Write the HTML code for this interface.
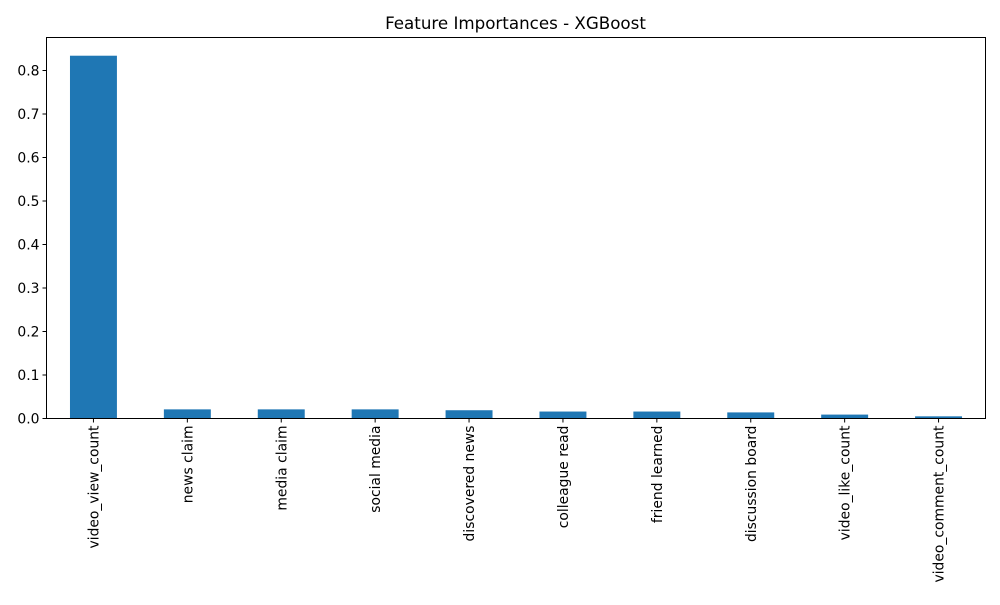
<!DOCTYPE html>
<html><head><meta charset="utf-8"><style>
body{margin:0;background:#fff;}
text{font-family:"DejaVu Sans","Liberation Sans",sans-serif;fill:#000;}
</style></head><body>
<svg id="chart" width="1000" height="600">
<text x="515.5" y="29" font-size="16.7" text-anchor="middle">Feature Importances - XGBoost</text>
<g id="bars"></g><g id="yaxis"></g><g id="xaxis"></g>
<rect x="46.5" y="37.5" width="939" height="381" fill="none" stroke="#000" stroke-width="1"/>
</svg>
<script>
const categories=["video_view_count","news claim","media claim","social media","discovered news","colleague read","friend learned","discussion board","video_like_count","video_comment_count"];
const importances=[0.834,0.021,0.021,0.021,0.019,0.016,0.016,0.014,0.009,0.005];
const yTicks=[0,0.1,0.2,0.3,0.4,0.5,0.6,0.7,0.8];
const yTickLabels=["0.0","0.1","0.2","0.3","0.4","0.5","0.6","0.7","0.8"];
const L=46.5,R=985.5,B=418.5,T=37.5;
const ns="http://www.w3.org/2000/svg";
const step=(R-L)/categories.length;
function xc(i){return L+step*(i+0.5);}
function y(v){return B-v*435;}
const bars=document.getElementById('bars'),ya=document.getElementById('yaxis'),xa=document.getElementById('xaxis');
function mk(tag,a,p){const e=document.createElementNS(ns,tag);for(const k in a)e.setAttribute(k,a[k]);p.appendChild(e);return e;}
importances.forEach((v,i)=>{
 const r=mk('rect',{x:xc(i)-step*0.25,y:y(v),width:step*0.5,height:B-y(v),fill:'#1f77b4'},bars);
 
 
 const t=mk('line',{x1:xc(i),x2:xc(i),y1:B,y2:B+4,stroke:'#000'},xa);
 
 
 const tx=mk('text',{x:0,y:0,'font-size':13.9,'text-anchor':'end',transform:`translate(${xc(i)+5},${B+7}) rotate(-90)`},xa);
 tx.textContent=categories[i];
 
 
});
yTicks.forEach((v,i)=>{
 const t=mk('line',{x1:L-4,x2:L,y1:y(v),y2:y(v),stroke:'#000'},ya);
 
 
 const tx=mk('text',{x:L-7,y:y(v)+5,'font-size':13.9,'text-anchor':'end'},ya);
 tx.textContent=yTickLabels[i];
 
 
});
</script>
</body></html>
